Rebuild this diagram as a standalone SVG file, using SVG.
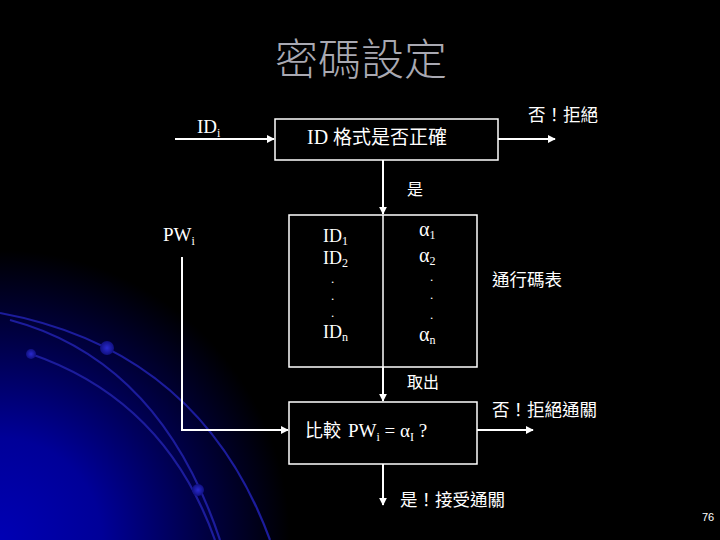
<svg xmlns="http://www.w3.org/2000/svg" width="720" height="540" viewBox="0 0 720 540">
<defs>
<radialGradient id="bg" cx="0" cy="540" r="290" gradientUnits="userSpaceOnUse">
<stop offset="0" stop-color="#0000b4"/>
<stop offset="0.35" stop-color="#000098"/>
<stop offset="0.7" stop-color="#000044"/>
<stop offset="1" stop-color="#000000"/>
</radialGradient>
<radialGradient id="dot">
<stop offset="0" stop-color="#2a2ad0"/>
<stop offset="1" stop-color="#101080"/>
</radialGradient>
<marker id="ah" viewBox="0 0 10 10" refX="9" refY="5" markerWidth="4" markerHeight="4" orient="auto" markerUnits="strokeWidth">
<path d="M0,0 L10,5 L0,10 z" fill="#ffffff"/>
</marker>
<style>
.box{fill:none;stroke:#ffffff;stroke-width:1.5}
.cn{fill:none;stroke:#ffffff;stroke-width:2}
.arc{fill:none;stroke:#1c1c9c;stroke-width:2.2}
.cjk{font-family:"Noto Sans CJK TC","Noto Sans CJK SC",sans-serif;fill:#ffffff}
.lat{font-family:"Liberation Serif",serif;fill:#ffffff}
.dt{font-family:"Liberation Serif",serif;fill:#ffffff;font-size:13px}
</style>
</defs>
<rect width="720" height="540" fill="#000000"/>
<rect width="720" height="540" fill="url(#bg)"/>
<g id="decor">
<path class="arc" d="M0 313 Q200 350 270 540"/>
<path class="arc" d="M10 320 Q160 360 220 540"/>
<path class="arc" d="M31 354 Q165 400 215 540"/>
<circle cx="107" cy="348" r="7" fill="url(#dot)"/>
<circle cx="31" cy="354" r="5" fill="url(#dot)"/>
<circle cx="198" cy="490" r="6" fill="url(#dot)"/>
</g>
<g id="title">
<text x="361" y="75" text-anchor="middle" font-family="'Noto Sans CJK TC','Noto Sans CJK SC',sans-serif" font-size="43" font-weight="300" fill="#a9a9b2">密碼設定</text>
</g>
<g id="connectors">
<line class="cn" x1="175" y1="139" x2="274" y2="139" marker-end="url(#ah)"/>
<line class="cn" x1="498" y1="139" x2="555" y2="139" marker-end="url(#ah)"/>
<line class="cn" x1="383" y1="160" x2="383" y2="214" marker-end="url(#ah)"/>
<line class="cn" x1="383" y1="367" x2="383" y2="401" marker-end="url(#ah)"/>
<polyline class="cn" points="182,257 182,430 288,430" marker-end="url(#ah)"/>
<line class="cn" x1="477" y1="430" x2="533" y2="430" marker-end="url(#ah)"/>
<line class="cn" x1="383" y1="464" x2="383" y2="505" marker-end="url(#ah)"/>
</g>
<g id="idcheck">
<rect class="box" x="275" y="119" width="223" height="41"/>
<text x="307" y="144" font-size="20"><tspan class="lat">ID </tspan><tspan class="cjk" font-size="19">格式是否正確</tspan></text>
</g>
<g id="table">
<rect class="box" x="289" y="215" width="188" height="152"/>
<line class="box" x1="383" y1="215" x2="383" y2="367"/>
<g class="lat" font-size="18">
<text x="323" y="242">ID<tspan font-size="12" dy="3">1</tspan></text>
<text x="323" y="264">ID<tspan font-size="12" dy="3">2</tspan></text>
<text class="dt" x="331" y="283">.</text>
<text class="dt" x="331" y="300">.</text>
<text class="dt" x="331" y="317">.</text>
<text x="323" y="338">ID<tspan font-size="12" dy="3">n</tspan></text>
<text x="419" y="236" font-size="20">α<tspan font-size="12" dy="3">1</tspan></text>
<text x="419" y="262" font-size="20">α<tspan font-size="12" dy="3">2</tspan></text>
<text class="dt" x="430" y="281">.</text>
<text class="dt" x="430" y="299">.</text>
<text class="dt" x="430" y="319">.</text>
<text x="419" y="341" font-size="20">α<tspan font-size="12" dy="3">n</tspan></text>
</g>
</g>
<g id="compare">
<rect class="box" x="289" y="402" width="188" height="62"/>
<text x="305" y="437" font-size="19"><tspan class="cjk" font-size="18">比較</tspan><tspan class="lat" x="348">PW</tspan><tspan class="lat" font-size="12" dy="4">i</tspan><tspan class="lat" dy="-4"> = α</tspan><tspan class="lat" font-size="12" dy="4">I</tspan><tspan class="lat" dy="-4"> ?</tspan></text>
</g>
<g id="labels">
<text class="lat" x="197" y="133" font-size="19">ID<tspan font-size="12" dy="4">i</tspan></text>
<text class="lat" x="163" y="241" font-size="19">PW<tspan font-size="12" dy="4">i</tspan></text>
<text class="cjk" x="528" y="121" font-size="17.5">否！拒絕</text>
<text class="cjk" x="407" y="195" font-size="16">是</text>
<text class="cjk" x="492" y="286" font-size="17.5">通行碼表</text>
<text class="cjk" x="407" y="388" font-size="16">取出</text>
<text class="cjk" x="492" y="416" font-size="17.5">否！拒絕通關</text>
<text class="cjk" x="400" y="506" font-size="17.5">是！接受通關</text>
<text x="702" y="521" font-family="'Liberation Sans',sans-serif" font-size="11" fill="#ffffff">76</text>
</g>
</svg>
